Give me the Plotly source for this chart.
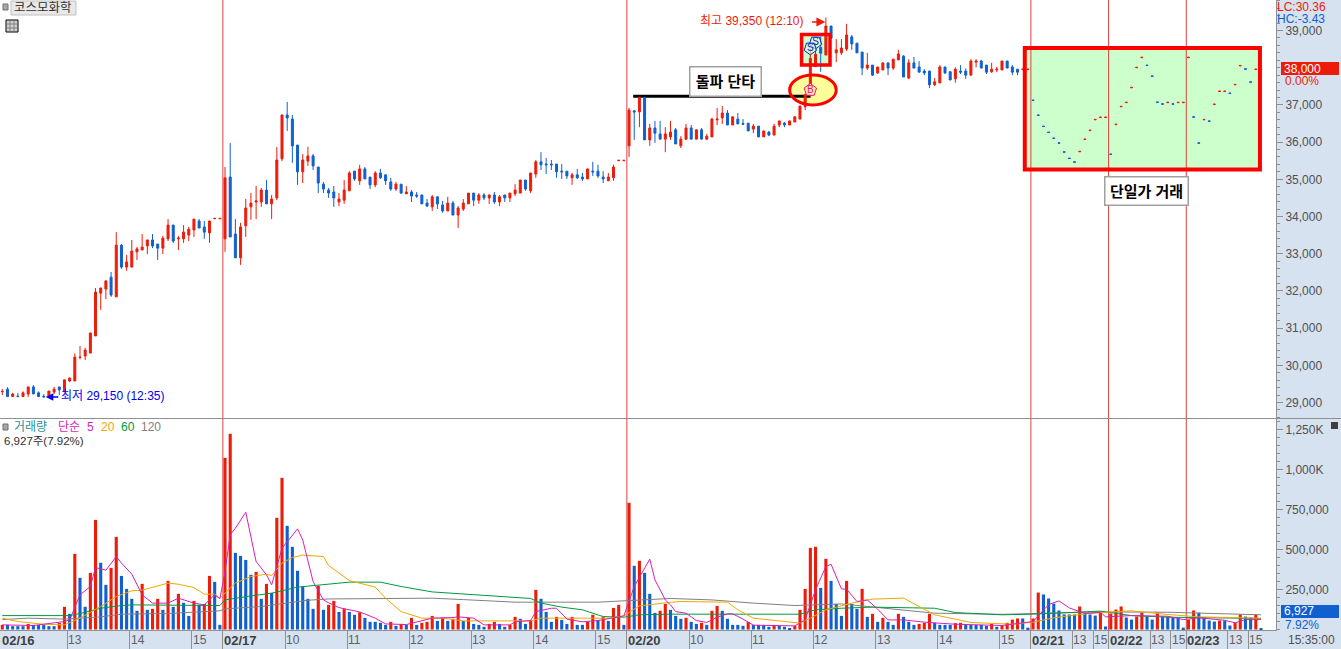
import plotly.graph_objects as go

W = 1341
H = 649

RED = "#ED1C0A"
BLUE = "#1160CF"
AXIS_BG = "#D6E2F0"
GRAY = "#909090"
FONT_KR = "Liberation Sans, Noto Sans CJK KR"
FONT_NUM = "Liberation Sans"

# 5 minute candles, 02/16 to 02/20 and the first bars of 02/21
opens = [
    29290, 29360, 29160, 29170, 29160, 29230, 29420, 29260, 29170, 29150,
    29280, 29420, 29290, 29580, 29580, 30210, 30250, 30330, 30790, 31940,
    32050, 32370, 31840, 33230, 32640, 32640, 33050, 33100, 33210, 33370,
    33260, 33150, 33400, 33770, 33400, 33400, 33500, 33640, 33880, 33720,
    33560, 33940, 33940,
    33400, 35060, 33530, 32890, 33750, 34260, 34390, 34390, 34710, 34340,
    34500, 35550, 36730, 36620, 35920, 35200, 35490, 35630, 35330, 34870,
    34710, 34660, 34390, 34440, 34690, 35220, 34960, 35280, 35060, 34850,
    35170, 35120, 34930, 34740, 34870, 34610, 34660, 34580, 34580, 34360,
    34260, 34530, 34310, 34150, 34360, 34040, 34200, 34340, 34630, 34440,
    34580, 34500, 34580, 34390, 34580, 34500, 34610, 34630, 34980, 34690,
    35140, 35470, 35410, 35410, 35410, 35220, 35220, 35040, 35120, 35060,
    35010, 35220, 35220, 35060, 34960, 35040, 35500, 35500,
    35900, 36840, 36810, 37200, 36060, 36380, 36220, 36080, 36140, 36330,
    35900, 36080, 36380, 36080, 36330, 36080, 36140, 36600, 36650, 36780,
    36460, 36620, 36500, 36510, 36350, 36430, 36140, 36270, 36190, 36460,
    36510, 36460, 36540, 36620, 36950, 37270, 38030, 38540, 38340, 39120,
    38400, 38400, 38500, 38830, 38660, 38420, 37990, 38070, 37860, 37940,
    38130, 37990, 38210, 38310, 37720, 38130, 38020, 37910, 37910, 37540,
    37590, 38020, 37890, 37700, 37910, 37910, 37800, 38150, 38180, 38070,
    37890, 37940, 37940, 38180, 38020, 37960,
]
closes = [
    29300, 29160, 29230, 29160, 29260, 29420, 29230, 29160, 29150, 29310,
    29360, 29340, 29610, 29660, 30220, 30220, 30410, 30870, 31970, 32080,
    32270, 31890, 33230, 32640, 32780, 33070, 33130, 33180, 33370, 33210,
    33150, 33420, 33770, 33340, 33420, 33580, 33660, 33930, 33690, 33580,
    33880, 33950, 33950,
    35040, 33450, 32890, 33720, 34230, 34360, 34420, 34710, 34340, 34470,
    35520, 36730, 36650, 35900, 35200, 35520, 35630, 35360, 34900, 34740,
    34630, 34500, 34470, 34710, 35170, 35010, 35280, 35010, 34850, 35170,
    35040, 34960, 34740, 34870, 34630, 34660, 34550, 34550, 34340, 34280,
    34530, 34340, 34150, 34360, 34040, 34230, 34360, 34630, 34440, 34580,
    34500, 34580, 34390, 34530, 34500, 34630, 34710, 34980, 34740, 35170,
    35470, 35390, 35390, 35390, 35200, 35200, 35090, 35120, 35040, 35010,
    35280, 35200, 35090, 35010, 35060, 35330, 35510, 35510,
    36860, 36810, 37200, 36060, 36380, 36240, 36080, 36220, 36270, 35950,
    36080, 36380, 36080, 36330, 36080, 36160, 36620, 36620, 36780, 36460,
    36680, 36490, 36480, 36300, 36430, 36140, 36300, 36190, 36430, 36570,
    36460, 36570, 36680, 36970, 37270, 38250, 38360, 38390, 39120, 38790,
    38480, 38530, 38880, 38640, 38400, 37990, 38070, 37800, 38020, 38130,
    37990, 38230, 38370, 37750, 38130, 37990, 37880, 37860, 37540, 37620,
    38020, 37860, 37670, 37960, 37880, 37800, 38180, 38180, 37990, 37880,
    37960, 37960, 38180, 37990, 37880, 37880,
]
highs = [
    29360, 29410, 29260, 29260, 29300, 29420, 29470, 29300, 29220, 29310,
    29420, 29420, 29610, 29660, 30320, 30520, 30470, 30870, 32080, 32080,
    32270, 32510, 33580, 33260, 32970, 33370, 33180, 33530, 33370, 33530,
    33260, 33480, 33930, 33770, 33480, 33770, 33720, 33930, 33930, 33880,
    33880, 33950, 33950,
    35330, 35980, 33930, 33830, 34470, 34630, 34820, 34770, 34980, 34580,
    35870, 36730, 37080, 36730, 35920, 35680, 35870, 35680, 35330, 34930,
    34770, 34820, 34630, 34980, 35220, 35220, 35390, 35330, 35060, 35220,
    35280, 35120, 35040, 34930, 34870, 34820, 34710, 34660, 34580, 34470,
    34580, 34530, 34420, 34530, 34420, 34280, 34470, 34630, 34630, 34630,
    34630, 34580, 34660, 34580, 34580, 34630, 34870, 34980, 34980, 35170,
    35520, 35730, 35570, 35520, 35410, 35410, 35220, 35170, 35280, 35170,
    35280, 35470, 35390, 35220, 35170, 35390, 35510, 35510,
    36920, 36860, 37220, 37220, 36490, 36570, 36570, 36400, 36570, 36380,
    36160, 36490, 36460, 36350, 36380, 36220, 36650, 36920, 36970, 36860,
    36680, 36780, 36620, 36510, 36490, 36430, 36300, 36300, 36490, 36570,
    36540, 36570, 36680, 36970, 37300, 38500, 38660, 38840, 39350, 39120,
    38770, 38770, 39180, 38880, 38660, 38420, 38400, 38070, 38020, 38130,
    38130, 38230, 38480, 38340, 38230, 38290, 38180, 37960, 37910, 37720,
    38070, 38020, 37910, 38010, 38070, 37980, 38230, 38230, 38210, 38070,
    38130, 38020, 38180, 38180, 38070, 37960,
]
lows = [
    29200, 29150, 29160, 29150, 29160, 29150, 29230, 29160, 29150, 29150,
    29230, 29200, 29290, 29550, 29580, 30160, 30140, 30330, 30790, 31490,
    31780, 31840, 31840, 32590, 32540, 32640, 32830, 33100, 32990, 33150,
    32830, 32990, 33340, 33290, 33100, 33290, 33340, 33450, 33690, 33400,
    33290, 33940, 33940,
    33050, 33450, 32890, 32700, 33450, 33910, 33930, 34260, 34340, 33930,
    34440, 35490, 36300, 35440, 34850, 34900, 35360, 35250, 34630, 34630,
    34500, 34260, 34280, 34340, 34690, 34960, 34850, 35010, 34740, 34790,
    35010, 34850, 34690, 34690, 34610, 34610, 34390, 34500, 34340, 34260,
    34150, 34200, 34100, 34150, 34040, 33690, 34150, 34340, 34280, 34340,
    34440, 34340, 34340, 34280, 34390, 34390, 34550, 34630, 34690, 34630,
    35040, 35250, 35140, 35250, 35040, 35010, 35010, 34850, 35010, 34960,
    35010, 35090, 35040, 34900, 34960, 34960, 35500, 35500,
    35600, 36060, 36400, 36060, 35900, 35980, 36080, 35730, 36060, 35950,
    35840, 36060, 36080, 36080, 36080, 36060, 36140, 36460, 36490, 36460,
    36460, 36490, 36460, 36300, 36240, 36140, 36140, 36160, 36190, 36400,
    36400, 36460, 36540, 36620, 36860, 37200, 38030, 37890, 38340, 38790,
    38150, 38340, 38450, 38480, 38400, 37800, 37940, 37780, 37830, 37940,
    37800, 37940, 38210, 37750, 37700, 37990, 37880, 37800, 37450, 37510,
    37590, 37830, 37670, 37600, 37830, 37700, 37800, 38010, 37990, 37830,
    37860, 37880, 37940, 37990, 37800, 37800,
]

# single price session: one price per bar, True when it traded up
single_price = [
    37960, 37960, 37120, 36720, 36420, 36260, 36100, 35970, 35730, 35560,
    35460, 35750, 36080, 36320, 36610, 36670, 36670, 35670, 36480, 36960,
    37070, 37470, 38010, 38280, 38060, 37770, 37070, 37020, 37070, 37020,
    37070, 37070, 38280, 36670, 35970, 36610, 36560, 37020, 37370, 37370,
    37310, 37550, 38060, 37960, 37610, 37960, 37960,
]
single_up = [
    True, True, False, False, False, False, False, False, False, False,
    False, True, True, True, True, True, True, False, True, True,
    True, True, True, True, False, False, False, False, True, False,
    True, True, True, False, False, True, False, True, True, True,
    False, True, True, False, False, True, True,
]

# volume, thousand shares
volume_k = [
    29, 29, 21, 21, 21, 35, 29, 29, 29, 21, 21, 42, 142, 98, 473, 323, 142, 354, 685, 417,
    279, 385, 579, 335, 254, 192, 117, 285, 123, 129, 192, 123, 304, 142, 223, 167, 85, 179, 154, 160,
    335, 298, 29, 1073, 1223, 479, 460, 435, 342, 360, 192, 285, 229, 698, 948, 648, 517, 367, 267, 192,
    129, 273, 123, 154, 179, 110, 129, 110, 92, 108, 73, 48, 48, 42, 29, 48, 23, 35, 29, 73,
    29, 42, 48, 85, 54, 73, 54, 67, 160, 54, 73, 35, 29, 17, 35, 48, 35, 17, 29, 79,
    67, 35, 60, 248, 192, 110, 48, 79, 60, 35, 79, 29, 29, 48, 92, 60, 79, 54, 135, 154,
    29, 792, 398, 429, 354, 223, 104, 117, 160, 123, 85, 67, 73, 48, 35, 42, 29, 117, 148, 117,
    67, 29, 29, 23, 48, 29, 29, 29, 17, 29, 23, 17, 10, 23, 123, 254, 510, 517, 260, 442,
    304, 160, 85, 304, 160, 129, 254, 79, 98, 48, 73, 48, 29, 98, 79, 48, 29, 35, 42, 98,
    42, 29, 29, 29, 40, 42, 29, 29, 29, 29, 23, 35, 17, 25, 42, 62, 69, 69, 12, 69,
    231, 219, 194, 162, 119, 94, 94, 94, 144, 100, 94, 87, 106, 19, 100, 125, 144, 75, 62, 81,
    106, 81, 62, 106, 81, 81, 75, 75, 12, 62, 119, 106, 75, 56, 50, 56, 56, 25, 44, 94,
    81, 75, 94, 7,
]

ma5_bar = [0, 6, 12, 13, 15, 17, 18, 20, 22, 23, 25, 26, 27, 29, 32, 34, 37, 39, 41, 42, 43, 44, 45, 47, 49,
           51, 52, 54, 57, 58, 60, 62, 63, 65, 69, 72, 74, 78, 83, 87, 88, 91, 93, 98, 99, 102, 103, 106, 107,
           109, 112, 115, 119, 120, 122, 125, 126, 128, 129, 130, 132, 134, 136, 138, 140, 141, 143, 145, 153,
           155, 157, 159, 160, 162, 163, 165, 167, 169, 171, 174, 178, 184, 193, 199, 202, 204, 206, 209, 212,
           213, 218, 225, 228, 231, 236, 238, 240, 243]
ma5_k = [29, 25, 50, 60, 217, 269, 387, 371, 456, 415, 346, 279, 217, 165, 165, 196, 165, 154, 217, 192, 362,
         592, 633, 733, 425, 342, 279, 508, 629, 560, 300, 185, 167, 137, 110, 71, 35, 31, 71, 75, 79, 71, 29,
         29, 48, 56, 112, 133, 133, 65, 48, 56, 81, 85, 269, 440, 310, 185, 154, 112, 102, 56, 44, 77, 98, 98,
         65, 27, 23, 60, 248, 394, 408, 254, 252, 175, 185, 127, 60, 60, 46, 33, 25, 50, 156, 179, 135, 100,
         108, 79, 87, 83, 62, 73, 58, 42, 62, 62]
ma20_bar = [0, 3, 8, 12, 15, 19, 22, 25, 27, 32, 34, 37, 39, 41, 42, 45, 48, 51, 52, 54, 56, 58, 62, 63, 67, 72,
            74, 77, 81, 85, 89, 102, 104, 117, 120, 123, 129, 131, 140, 142, 145, 148, 154, 156, 159, 164, 168,
            174, 177, 180, 187, 195, 199, 203, 208, 213, 218, 225, 231, 238, 243]
ma20_k = [71, 50, 33, 29, 71, 144, 206, 242, 246, 290, 283, 262, 221, 221, 196, 290, 331, 346, 337, 415, 450,
          465, 456, 400, 306, 265, 196, 112, 71, 71, 54, 54, 71, 71, 85, 148, 170, 175, 171, 123, 71, 60, 40,
          71, 123, 165, 190, 196, 144, 92, 44, 33, 46, 73, 94, 108, 117, 94, 79, 73, 71]
ma60_bar = [0, 13, 15, 19, 23, 25, 42, 43, 48, 52, 57, 61, 63, 67, 73, 77, 83, 89, 95, 102, 104, 108, 112, 116,
            120, 123, 129, 148, 154, 157, 162, 168, 180, 184, 193, 199, 212, 218, 225, 243]
ma60_k = [87, 87, 100, 133, 150, 154, 150, 185, 210, 227, 265, 279, 284, 296, 296, 269, 235, 223, 210, 194, 165,
          140, 123, 81, 77, 92, 96, 96, 96, 123, 133, 140, 133, 106, 92, 96, 115, 87, 77, 69]
ma120_bar = [0, 5, 12, 16, 19, 23, 32, 42, 43, 50, 54, 59, 63, 83, 89, 99, 115, 120, 129, 137, 145, 153, 162,
             167, 174, 180, 193, 212, 225, 243]
ma120_k = [62, 71, 65, 71, 79, 96, 100, 117, 129, 144, 160, 183, 191, 196, 187, 171, 171, 179, 194, 185, 165,
           150, 160, 144, 123, 102, 95, 110, 108, 92]

# x axis: bar that starts each tick, and its label
tick_bars = [13, 25, 37, 43, 55, 67, 79, 91, 103, 115, 121, 133, 145, 157, 169, 181, 193, 199, 207, 211, 214,
             222, 226, 229, 237, 241]
tick_text = ["13", "14", "15", "02/17", "10", "11", "12", "13", "14", "15", "02/20", "10", "11", "12", "13",
             "14", "15", "02/21", "13", "15", "02/22", "13", "15", "02/23", "13", "15"]
day_bars = [43, 121, 199, 214, 229]

# trade signals on the price chart
signal_bars = [156, 157, 156]
signal_prices = [37400, 38680, 38520]
signal_text = ["B", "S", "S"]

price_ticks = [29000, 30000, 31000, 32000, 33000, 34000, 35000, 36000, 37000, 39000]
volume_ticks = [250000, 500000, 750000, 1000000, 1250000]
volume_tick_text = ["250,000", "500,000", "750,000", "1,000K", "1,250K"]

TICK_OFFSET = 0.42  # the axis marks sit just left of the bar they start


def px_x(p):
    return p / W


def px_y(p):
    return 1 - p / H


all_opens = opens + [p - 10 if up else p + 10 for p, up in zip(single_price, single_up)]
all_closes = closes + single_price
all_highs = highs + [max(p, p + (-10 if up else 10)) for p, up in zip(single_price, single_up)]
all_lows = lows + [min(p, p + (-10 if up else 10)) for p, up in zip(single_price, single_up)]
bars = list(range(len(all_closes)))

volume = [v * 1000 for v in volume_k]
volume[-1] = 6927
volume_colors = [RED] + [RED if volume[i] > volume[i - 1] else BLUE for i in range(1, len(volume))]

fig = go.Figure()

fig.add_trace(go.Candlestick(
    x=bars, open=all_opens, high=all_highs, low=all_lows, close=all_closes,
    increasing=dict(line=dict(color=RED, width=1), fillcolor=RED),
    decreasing=dict(line=dict(color=BLUE, width=1), fillcolor=BLUE),
    xaxis="x", yaxis="y", showlegend=False,
))

fig.add_trace(go.Bar(
    x=bars, y=volume, width=0.6, marker=dict(color=volume_colors, line=dict(width=0)),
    xaxis="x", yaxis="y2", showlegend=False,
))

for xs, ys, color in [(ma120_bar, ma120_k, "#808080"), (ma60_bar, ma60_k, "#009A3C"),
                      (ma20_bar, ma20_k, "#F0A800"), (ma5_bar, ma5_k, "#D81FB8")]:
    fig.add_trace(go.Scatter(
        x=xs, y=[v * 1000 for v in ys], mode="lines", line=dict(color=color, width=1),
        xaxis="x", yaxis="y2", showlegend=False,
    ))

fig.add_trace(go.Scatter(
    x=signal_bars, y=signal_prices, mode="markers+text", text=signal_text,
    textposition="middle center",
    textfont=dict(family=FONT_NUM, size=10, color=["#F01080", "#2222CC", "#2222CC"]),
    marker=dict(symbol="pentagon", size=13, angle=[0, 180, 180],
                color=["#FFE8A0", "rgba(204,255,204,0.6)", "rgba(204,255,204,0.6)"],
                line=dict(width=1, color=["#F01080", "#2222CC", "#2222CC"])),
    xaxis="x", yaxis="y", showlegend=False,
))

shapes = []

# highlighted zones go under the candles, their borders above
shapes.append(dict(type="rect", xref="x", yref="paper", x0=197.4, x1=242.8, y0=px_y(169.5), y1=px_y(48),
                   fillcolor="#CCFFCC", line=dict(width=0), layer="below"))
shapes.append(dict(type="rect", xref="x", yref="paper", x0=154.3, x1=159.8, y0=px_y(65), y1=px_y(34.5),
                   fillcolor="#CCFFCC", line=dict(width=0), layer="below"))
shapes.append(dict(type="circle", xref="x", yref="paper", x0=152, x1=161, y0=px_y(105), y1=px_y(75),
                   fillcolor="#FFFF99", line=dict(width=0), layer="below"))

for b in day_bars:
    shapes.append(dict(type="line", xref="x", yref="paper", x0=b - TICK_OFFSET, x1=b - TICK_OFFSET,
                       y0=px_y(630), y1=1, line=dict(color="#E04040", width=1), layer="below"))

shapes.append(dict(type="rect", xref="x", yref="paper", x0=197.4, x1=242.8, y0=px_y(169.5), y1=px_y(48),
                   line=dict(color="#FF0000", width=4), layer="above"))
shapes.append(dict(type="rect", xref="x", yref="paper", x0=154.3, x1=159.8, y0=px_y(65), y1=px_y(34.5),
                   line=dict(color="#FF0000", width=3.5), layer="above"))
shapes.append(dict(type="circle", xref="x", yref="paper", x0=152, x1=161, y0=px_y(105), y1=px_y(75),
                   line=dict(color="#FF0000", width=3), layer="above"))
shapes.append(dict(type="line", xref="x", yref="y", x0=121.8, x1=156, y0=37230, y1=37230,
                   line=dict(color="#000000", width=3), layer="below"))

# panel divider and right hand labels
shapes.append(dict(type="line", xref="paper", yref="paper", x0=0, x1=1, y0=px_y(418.5), y1=px_y(418.5),
                   line=dict(color=GRAY, width=1), layer="above"))
shapes.append(dict(type="rect", xref="paper", yref="paper", x0=px_x(1281), x1=px_x(1339), y0=px_y(75), y1=px_y(62),
                   fillcolor=RED, line=dict(width=0), layer="above"))
shapes.append(dict(type="rect", xref="paper", yref="paper", x0=px_x(1281), x1=px_x(1339), y0=px_y(618), y1=px_y(605),
                   fillcolor=BLUE, line=dict(width=0), layer="above"))
shapes.append(dict(type="rect", xref="paper", yref="paper", x0=px_x(1331), x1=px_x(1338), y0=px_y(429), y1=px_y(422),
                   fillcolor="#404040", line=dict(width=0), layer="above"))

# little window icons at the top left of each panel
for top in [4, 424]:
    shapes.append(dict(type="rect", xref="paper", yref="paper", x0=px_x(3), x1=px_x(8), y0=px_y(top + 6), y1=px_y(top),
                       fillcolor="#A8A8A8", line=dict(color="#707070", width=1), layer="above"))
shapes.append(dict(type="rect", xref="paper", yref="paper", x0=px_x(11), x1=px_x(76), y0=px_y(15), y1=px_y(1),
                   fillcolor="#E8E8E8", line=dict(color="#C0C0C0", width=1), layer="above"))
shapes.append(dict(type="rect", xref="paper", yref="paper", x0=px_x(6), x1=px_x(18), y0=px_y(32), y1=px_y(20),
                   fillcolor="#D0D0D0", line=dict(color="#000000", width=1), layer="above"))
for p in [10, 14]:
    shapes.append(dict(type="line", xref="paper", yref="paper", x0=px_x(p), x1=px_x(p), y0=px_y(31), y1=px_y(21),
                       line=dict(color="#808080", width=1), layer="above"))
for p in [24, 28]:
    shapes.append(dict(type="line", xref="paper", yref="paper", x0=px_x(7), x1=px_x(17), y0=px_y(p), y1=px_y(p),
                       line=dict(color="#808080", width=1), layer="above"))

annotations = []


def label(x, y, text, color, size=12, bold=False, family=FONT_NUM, anchor="left"):
    annotations.append(dict(
        xref="paper", yref="paper", x=px_x(x), y=px_y(y), text=f"<b>{text}</b>" if bold else text,
        showarrow=False, xanchor=anchor, yanchor="middle", xshift=-2,
        font=dict(family=family, size=size, color=color),
    ))


label(14, 8, "코스모화학", "#303030", 12.5, family=FONT_KR)
label(1277, 7, "LC:30.36", RED, 12)
label(1277, 19, "HC:-3.43", BLUE, 12)
label(1284, 68.5, "38,000", "#FFFFFF", 12)
label(1285, 81, "0.00%", RED, 12)
label(1284, 611, "6,927", "#FFFFFF", 12)
label(1285, 624.5, "7.92%", BLUE, 12)
label(1288, 640, "15:35:00", "#505050", 12)
label(700, 21, "최고 39,350 (12:10)", RED, 12, family=FONT_KR)
label(61, 395.5, "최저 29,150 (12:35)", "#0000F0", 12, family=FONT_KR)
label(14, 426.5, "거래량", "#2A8F9A", 12, family=FONT_KR)
label(58, 426.5, "단순", "#D81FB8", 12, family=FONT_KR)
label(87, 426.5, "5", "#D81FB8", 12)
label(101, 426.5, "20", "#F0A800", 12)
label(121, 426.5, "60", "#009A3C", 12)
label(141, 426.5, "120", "#808080", 12)
label(4, 440.5, "6,927주(7.92%)", "#303030", 11.5, family=FONT_KR)
label(2, 640, "02/16", "#404040", 13, bold=True)

for b, t in zip(tick_bars, tick_text):
    annotations.append(dict(
        xref="x", yref="paper", x=b - TICK_OFFSET, y=px_y(640), text=f"<b>{t}</b>" if "/" in t else t,
        showarrow=False, xanchor="left", yanchor="middle", xshift=-1,
        font=dict(family=FONT_NUM, size=13 if "/" in t else 12, color="#404040" if "/" in t else "#606060"),
    ))

# price arrows
annotations.append(dict(xref="x", yref="y", x=158.9, y=39230, ax=-15, ay=0, text="", showarrow=True,
                        arrowhead=2, arrowsize=1.2, arrowwidth=1.5, arrowcolor=RED))
annotations.append(dict(xref="x", yref="y", x=8.4, y=29150, ax=14, ay=0, text="", showarrow=True,
                        arrowhead=2, arrowsize=1, arrowwidth=1.5, arrowcolor="#0000F0"))

# call out boxes
for x, y, text, w, h in [(725.5, 81.5, "돌파 단타", 68, 26), (1146.5, 191, "단일가 거래", 80, 25)]:
    annotations.append(dict(
        xref="paper", yref="paper", x=px_x(x), y=px_y(y), text=f"<b>{text}</b>", showarrow=False,
        xanchor="center", yanchor="middle", width=w, height=h, bgcolor="#FFFFFF",
        bordercolor="#A0A0A0", borderwidth=1.5, font=dict(family=FONT_KR, size=15, color="#000000"),
    ))

fig.update_layout(
    width=W, height=H, margin=dict(l=0, r=0, t=0, b=0),
    paper_bgcolor=AXIS_BG, plot_bgcolor="#FFFFFF",
    boxgap=0.45, bargap=0.4, showlegend=False, hovermode=False,
    shapes=shapes, annotations=annotations,
    xaxis=dict(
        domain=[0, 1276 / W], range=[-0.444, 245.9], anchor="y2", rangeslider=dict(visible=False),
        tickmode="array", tickvals=[b - TICK_OFFSET for b in tick_bars], showticklabels=False,
        ticks="outside", ticklen=19, tickwidth=1, tickcolor=GRAY, showgrid=False, zeroline=False,
        showline=True, linecolor=GRAY, linewidth=1,
    ),
    yaxis=dict(
        domain=[231 / H, 1], range=[28584, 39820], anchor="x", side="right",
        tickmode="array", tickvals=price_ticks, tickformat=",", ticks="outside", ticklen=6, tickcolor=GRAY,
        minor=dict(dtick=200, ticks="outside", ticklen=3, tickcolor=GRAY, showgrid=False),
        tickfont=dict(family=FONT_NUM, size=12, color="#505050"),
        showgrid=False, zeroline=False, showline=True, linecolor=GRAY, linewidth=1,
    ),
    yaxis2=dict(
        domain=[19 / H, 230 / H], range=[-3000, 1315600], anchor="x", side="right",
        tickmode="array", tickvals=volume_ticks, ticktext=volume_tick_text, ticks="outside", ticklen=6,
        tickcolor=GRAY,
        minor=dict(dtick=50000, ticks="outside", ticklen=3, tickcolor=GRAY, showgrid=False),
        tickfont=dict(family=FONT_NUM, size=12, color="#505050"),
        showgrid=False, zeroline=False, showline=True, linecolor=GRAY, linewidth=1,
    ),
)

fig.write_html("out.html", config={"displayModeBar": False}, post_script="document.body.style.margin='0';")
